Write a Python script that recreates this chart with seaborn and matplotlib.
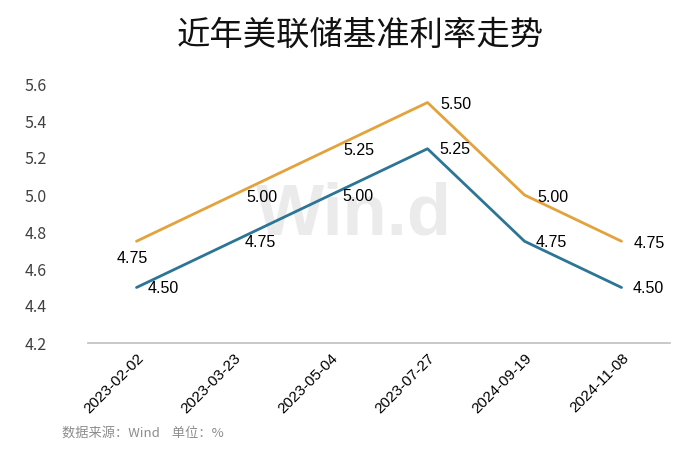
import matplotlib
matplotlib.use("Agg")
import matplotlib.pyplot as plt
import seaborn as sns
import pandas as pd

dates = ["2023-02-02", "2023-03-23", "2023-05-04", "2023-07-27", "2024-09-19", "2024-11-08"]
upper = [4.75, 5.00, 5.25, 5.50, 5.00, 4.75]
lower = [4.50, 4.75, 5.00, 5.25, 4.75, 4.50]
yticks = [4.2, 4.4, 4.6, 4.8, 5.0, 5.2, 5.4, 5.6]

sns.set_theme(style="white")
plt.rcParams['font.family'] = ['Noto Sans CJK SC', 'DejaVu Sans']

df = pd.DataFrame({
    "date": dates * 2,
    "rate": upper + lower,
    "series": ["上限"] * len(dates) + ["下限"] * len(dates),
})

fig = plt.figure(figsize=(7.0, 4.62), dpi=100)
ax = fig.add_axes([88/700, 1 - 343/462, (670 - 88)/700, (343 - 84)/462])
ax.set_facecolor("none")

orange = "#E3A23C"
blue = "#2C7595"
sns.lineplot(data=df, x="date", y="rate", hue="series", palette=[orange, blue],
             linewidth=2.0, ax=ax, legend=False, sort=False, zorder=3)

ax.set_xlim(-0.5, len(dates) - 0.5)
ax.set_ylim(4.2, 5.6)
ax.set_yticks(yticks)
ax.set_yticklabels([f"{v:.1f}" for v in yticks], fontsize=11.5, color="#404040",
                   family=['Noto Sans CJK SC'])
ax.set_xticks(range(len(dates)))
ax.set_xticklabels(dates, rotation=45, ha="right", rotation_mode="anchor",
                   fontsize=11, color="#000000", family=['Liberation Sans'])
ax.tick_params(axis='both', length=0)
ax.tick_params(axis='y', pad=30)
ax.tick_params(axis='x', pad=6)
ax.set_xlabel("")
ax.set_ylabel("")
for s in ["top", "right", "left"]:
    ax.spines[s].set_visible(False)
ax.spines["bottom"].set_color("#BFBFBF")
ax.spines["bottom"].set_linewidth(1.2)

# watermark behind everything
fig.text(354/700, 1 - 216/462, "Win.d", fontsize=52, color="#EBEBEB", ha="center",
         va="center", fontweight="bold", family=['Liberation Sans'], zorder=-5)

# data labels
lab_kw = dict(textcoords="offset pixels", ha="center", va="center", fontsize=11.5,
              family=['Liberation Sans'], color="#000000", zorder=5)
for i, v in enumerate(upper):
    if i == 0:
        ax.annotate(f"{v:.2f}", (i, v), xytext=(-4, -17), **lab_kw)
    else:
        ax.annotate(f"{v:.2f}", (i, v), xytext=(28, -2), **lab_kw)
for i, v in enumerate(lower):
    ax.annotate(f"{v:.2f}", (i, v), xytext=(27, -1), **lab_kw)

fig.text(360/700, 1 - 35/462, "近年美联储基准利率走势", fontsize=24, ha="center",
         va="center", color="#111111")
fig.text(62/700, 1 - 433/462, "数据来源：Wind    单位：%", fontsize=9.5,
         ha="left", va="center", color="#8C8C8C")

fig.savefig("out.png", dpi=100)
